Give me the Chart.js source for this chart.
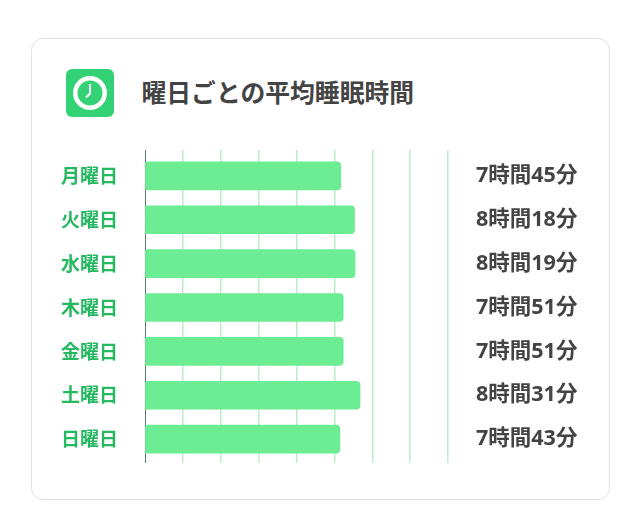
<!DOCTYPE html>
<html lang="ja">
<head>
<meta charset="utf-8">
<title>曜日ごとの平均睡眠時間</title>
<script src="https://cdn.jsdelivr.net/npm/chart.js@4/dist/chart.umd.min.js"></script>
<style>
    html, body { margin: 0; padding: 0; background: #fff; }
    body { width: 640px; height: 532px; position: relative; overflow: hidden; font-family: "Noto Sans", "Noto Sans CJK JP", sans-serif; }
    .card { position: absolute; left: 31px; top: 38px; width: 577px; height: 460px; border: 1.5px solid #e2e2e2; border-radius: 12px; }
    .icon { position: absolute; left: 65.5px; top: 69px; width: 48px; height: 48px; }
    h1 { position: absolute; left: 141.5px; top: 75px; margin: 0; font-size: 24.8px; line-height: 34px; font-weight: 700; color: #444; }
    #sleepChart { position: absolute; left: 31px; top: 121px; }
</style>
</head>
<body>
<div class="card"></div>
<svg class="icon" viewBox="0 0 48 48">
    <rect width="48" height="48" rx="6" fill="#33d275"/>
    <circle cx="24" cy="24" r="14.75" fill="none" stroke="#fff" stroke-width="4.5"/>
    <path d="M24 15 V24.5 L20 28.5" fill="none" stroke="#fff" stroke-width="2"/>
</svg>
<h1>曜日ごとの平均睡眠時間</h1>
<canvas id="sleepChart" width="578" height="373"></canvas>
<script>
    const days = ['月曜日', '火曜日', '水曜日', '木曜日', '金曜日', '土曜日', '日曜日'];
    const sleepMinutes = [465, 498, 499, 471, 471, 511, 463];
    const durationLabels = ['7時間45分', '8時間18分', '8時間19分', '7時間51分', '7時間51分', '8時間31分', '7時間43分'];
    const axisMax = 720;
    const axisStep = 90;

    function gridColor(ctx) {
        return ctx.index === 0 ? '#5f7f6c' : '#bdeccd';
    }

    function gridWidth(ctx) {
        return ctx.index === 0 ? 1 : 1.5;
    }

    const chart = new Chart(document.getElementById('sleepChart'), {
        type: 'bar',
        data: {
            labels: days,
            datasets: [{
                data: sleepMinutes,
                backgroundColor: '#6ded93',
                borderRadius: 4,
                borderSkipped: 'left',
                barThickness: 28
            }]
        },
        options: {
            indexAxis: 'y',
            responsive: false,
            animation: false,
            layout: { padding: { top: 4, bottom: 5 } },
            plugins: { legend: { display: false }, tooltip: { enabled: false } },
            scales: {
                x: {
                    position: 'bottom',
                    min: 0,
                    max: axisMax,
                    border: { display: false },
                    grid: { color: gridColor, tickColor: gridColor, lineWidth: gridWidth, tickLength: 2 },
                    ticks: { display: false, stepSize: axisStep }
                },
                xTop: {
                    axis: 'x',
                    position: 'top',
                    min: 0,
                    max: axisMax,
                    border: { display: false },
                    grid: { drawOnChartArea: false, tickColor: gridColor, lineWidth: gridWidth, tickLength: 4 },
                    ticks: { display: false, stepSize: axisStep }
                },
                y: {
                    border: { display: false },
                    grid: { display: false },
                    ticks: { color: '#27b862', padding: 19, font: { family: '"Noto Sans CJK JP", sans-serif', size: 19, weight: 700 } },
                    afterFit: scale => { scale.width = 114; }
                },
                yValue: {
                    type: 'category',
                    axis: 'y',
                    position: 'right',
                    offset: true,
                    labels: durationLabels,
                    border: { display: false },
                    grid: { display: false },
                    ticks: { color: '#444', padding: 20, font: { family: '"Noto Sans", "Noto Sans CJK JP", sans-serif', size: 21.5, weight: 700 } },
                    afterFit: scale => { scale.width = 161; }
                }
            }
        }
    });
</script>
</body>
</html>
